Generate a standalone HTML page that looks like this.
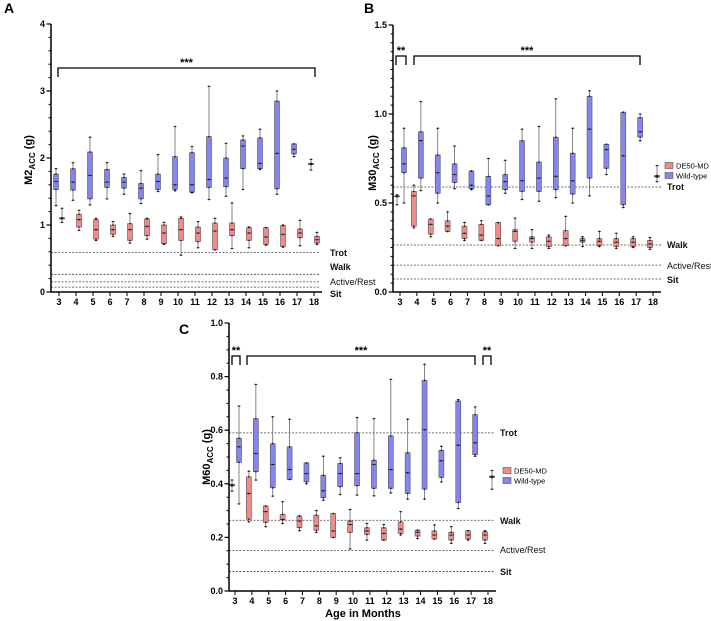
<!DOCTYPE html>
<html><head><meta charset="utf-8"><style>
body{margin:0;background:#fff}
svg{display:block;font-family:"Liberation Sans",Arial,sans-serif}
</style></head><body>
<svg id="chart" width="711" height="621" viewBox="0 0 711 621"></svg>
<script>
// values: [min, q1, median, q3, max] per month 3..18
const months = [3,4,5,6,7,8,9,10,11,12,13,14,15,16,17,18];
const aWT = [[1.29,1.53,1.65,1.76,1.84],[1.37,1.52,1.64,1.84,1.93],[1.30,1.39,1.74,2.09,2.31],[1.39,1.56,1.64,1.83,1.93],[1.46,1.55,1.64,1.71,1.76],[1.32,1.39,1.55,1.62,1.81],[1.50,1.53,1.65,1.76,2.05],[1.51,1.53,1.60,2.02,2.47],[1.48,1.49,1.60,2.08,2.17],[1.38,1.56,1.68,2.32,3.07],[1.43,1.57,1.70,2.00,2.22],[1.53,1.84,2.18,2.27,2.33],[1.83,1.84,1.92,2.30,2.43],[1.46,1.54,2.07,2.85,3.00],[2.02,2.06,2.13,2.21,2.21],[1.82,1.90,1.91,1.92,1.98]];
const aDE = [[1.04,1.09,1.10,1.11,1.25],[0.92,0.97,1.08,1.16,1.22],[0.77,0.79,0.93,1.08,1.10],[0.83,0.86,0.93,1.00,1.05],[0.73,0.77,0.93,1.02,1.17],[0.79,0.84,0.98,1.09,1.10],[0.71,0.72,0.88,1.00,1.04],[0.55,0.77,0.93,1.10,1.12],[0.66,0.75,0.88,0.97,1.05],[0.63,0.63,0.91,1.03,1.10],[0.65,0.84,0.93,1.03,1.33],[0.66,0.77,0.88,0.96,0.97],[0.70,0.71,0.82,0.96,0.96],[0.67,0.68,0.86,0.99,1.00],[0.69,0.81,0.88,0.94,1.07],[0.71,0.73,0.78,0.83,0.89]];
const bWT = [[0.50,0.67,0.72,0.81,0.92],[0.57,0.64,0.85,0.90,1.07],[0.50,0.555,0.67,0.77,0.92],[0.58,0.615,0.66,0.72,0.82],[0.575,0.58,0.60,0.68,0.68],[0.49,0.49,0.54,0.65,0.75],[0.555,0.575,0.62,0.66,0.74],[0.52,0.565,0.625,0.85,0.915],[0.51,0.565,0.64,0.73,0.93],[0.53,0.575,0.65,0.87,1.085],[0.50,0.55,0.625,0.78,0.92],[0.54,0.64,0.915,1.10,1.13],[0.66,0.695,0.80,0.83,0.83],[0.475,0.49,0.765,1.01,1.01],[0.85,0.87,0.90,0.98,1.00],[0.62,0.645,0.65,0.655,0.71]];
const bDE = [[0.49,0.535,0.537,0.54,0.546],[0.36,0.37,0.54,0.565,0.60],[0.31,0.325,0.38,0.41,0.41],[0.34,0.34,0.37,0.40,0.45],[0.29,0.30,0.33,0.37,0.39],[0.29,0.29,0.32,0.38,0.40],[0.26,0.26,0.30,0.39,0.39],[0.245,0.285,0.34,0.35,0.415],[0.245,0.28,0.30,0.31,0.35],[0.245,0.255,0.285,0.31,0.32],[0.26,0.26,0.30,0.345,0.425],[0.255,0.28,0.29,0.30,0.31],[0.255,0.26,0.285,0.30,0.34],[0.245,0.255,0.28,0.30,0.33],[0.25,0.255,0.28,0.30,0.31],[0.24,0.25,0.27,0.29,0.305]];
const cWT = [[0.325,0.48,0.538,0.57,0.69],[0.414,0.445,0.513,0.643,0.771],[0.354,0.385,0.472,0.55,0.65],[0.416,0.416,0.453,0.538,0.641],[0.40,0.407,0.438,0.478,0.478],[0.339,0.348,0.374,0.432,0.503],[0.36,0.389,0.438,0.476,0.497],[0.358,0.393,0.438,0.591,0.647],[0.355,0.383,0.472,0.488,0.643],[0.366,0.383,0.453,0.579,0.79],[0.343,0.364,0.441,0.516,0.641],[0.343,0.38,0.602,0.786,0.846],[0.407,0.424,0.486,0.525,0.54],[0.308,0.33,0.544,0.709,0.714],[0.503,0.509,0.553,0.658,0.687],[0.38,0.423,0.426,0.429,0.45]];
const cDE = [[0.373,0.392,0.395,0.398,0.414],[0.258,0.268,0.364,0.426,0.447],[0.24,0.256,0.296,0.317,0.317],[0.252,0.265,0.267,0.286,0.333],[0.225,0.236,0.261,0.28,0.28],[0.219,0.227,0.243,0.283,0.30],[0.20,0.20,0.224,0.289,0.289],[0.157,0.219,0.248,0.261,0.304],[0.19,0.211,0.224,0.236,0.252],[0.19,0.19,0.215,0.236,0.248],[0.209,0.215,0.231,0.258,0.296],[0.196,0.205,0.219,0.227,0.227],[0.194,0.194,0.209,0.224,0.246],[0.178,0.19,0.209,0.219,0.24],[0.19,0.194,0.209,0.225,0.225],[0.178,0.19,0.209,0.221,0.225]];
const refValues = [0.59, 0.264, 0.151, 0.073];
const refNames = ["Trot","Walk","Active/Rest","Sit"];
const aTicks = ["0","1","2","3","4"];
const bTicks = ["0.0","0.5","1.0","1.5"];
const cTicks = ["0.0","0.2","0.4","0.6","0.8","1.0"];

const NS="http://www.w3.org/2000/svg";
const svg=document.getElementById('chart');
function mk(tag,attrs,parent,text){const e=document.createElementNS(NS,tag);for(const k in attrs)e.setAttribute(k,attrs[k]);if(text!==undefined)e.textContent=text;(parent||svg).appendChild(e);return e;}
const BLUE="#8585f2",RED="#f28a8a";

function panel(P){
  const g=mk('g',{});
  
  
  const y=v=>P.y0-(v/P.ymax)*(P.y0-P.yTop);
  const step=(P.x18-P.x3)/15;
  const x=m=>P.x3+(m-3)*step;
  const L=mk('text',{x:P.lx,y:P.ly,'font-size':14,'font-weight':'bold'},g,P.letter);
  
  refValues.forEach((v,i)=>{
    const ln=mk('line',{x1:P.ax,x2:P.refEnd,y1:y(v),y2:y(v),stroke:'#444','stroke-width':0.8,'stroke-dasharray':'2,1.5'},g);
    
    
    const t=mk('text',{x:P.refLx,y:P.refLy[i],'font-size':9,'font-weight':i==2?'normal':'bold',fill:'#111'},g,refNames[i]);
    
  });
  function series(data,color,off,nm){
    data.forEach((d,i)=>{
      const cx=x(months[i])+off;
      const w=mk('line',{x1:cx,x2:cx,y1:y(d[0]),y2:y(d[4]),stroke:'#666','stroke-width':0.8},g);
      
      mk('line',{x1:cx-1.5,x2:cx+1.5,y1:y(d[0]),y2:y(d[0]),stroke:'#333','stroke-width':0.8},g);
      mk('line',{x1:cx-1.5,x2:cx+1.5,y1:y(d[4]),y2:y(d[4]),stroke:'#333','stroke-width':0.8},g);
      const r=mk('rect',{x:cx-2.5,y:y(d[3]),width:5,height:Math.max(0.5,y(d[1])-y(d[3])),fill:color,stroke:'#555','stroke-width':0.6},g);
      
      mk('line',{x1:cx-2.5,x2:cx+2.5,y1:y(d[2]),y2:y(d[2]),stroke:'#333','stroke-width':0.8},g);
      [d[0],d[1],d[2],d[3],d[4]].forEach(v=>{mk('circle',{cx:cx,cy:y(v),r:0.8,fill:'#111'},g);});
    });
  }
  series(P.wt,BLUE,P.wtOff,'wild-type');
  series(P.de,RED,P.deOff,'de50-md');
  const ya=mk('line',{x1:P.ax,x2:P.ax,y1:P.yTop,y2:P.y0,stroke:'#000','stroke-width':1.5},g);
  
  const nMinor=Math.round(P.ymax/P.minor);
  for(let k=0;k<=nMinor;k++){const v=k*P.minor;mk('line',{x1:P.ax-2.5,x2:P.ax,y1:y(v),y2:y(v),stroke:'#000','stroke-width':1},g);}
  P.ticks.forEach((t,i)=>{
    const v=i*P.major;
    mk('line',{x1:P.ax-4.5,x2:P.ax,y1:y(v),y2:y(v),stroke:'#000','stroke-width':1.2},g);
    const tl=mk('text',{x:P.ax-6,y:y(v)+3,'font-size':9,'font-weight':'bold','text-anchor':'end'},g,t);
    
  });
  const xa=mk('line',{x1:P.ax,x2:P.x18+8,y1:P.y0,y2:P.y0,stroke:'#000','stroke-width':1.5},g);
  
  months.forEach(m=>{
    mk('line',{x1:x(m),x2:x(m),y1:P.y0,y2:P.y0+4,stroke:'#000','stroke-width':1},g);
    const tl=mk('text',{x:x(m),y:P.y0+13,'font-size':9,'font-weight':'bold','text-anchor':'middle'},g,String(m));
    
  });
  const yt=mk('text',{transform:`translate(${P.ytx},${P.yty}) rotate(-90)`,'font-size':11,'font-weight':'bold','text-anchor':'middle'},g);
  
  mk('tspan',{},yt,P.ytitle);mk('tspan',{'font-size':8,dy:3},yt,'ACC');mk('tspan',{dy:-3},yt,' (g)');
  P.brackets.forEach(b=>{
    const by=P.brY;
    const p=mk('path',{d:`M${b[0]},${by+9} V${by} H${b[1]} V${by+9}`,fill:'none',stroke:'#000','stroke-width':1.3},g);
    
    const t=mk('text',{x:(b[0]+b[1])/2,y:by-2,'font-size':11,'font-weight':'bold','text-anchor':'middle'},g,b[2]);
    
  });
  if(P.legend){
    [[RED,'DE50-MD'],[BLUE,'Wild-type']].forEach((it,i)=>{
      const yy=P.legend[1]+i*10;
      const r=mk('rect',{x:P.legend[0],y:yy-3.5,width:8,height:6,fill:it[0],stroke:'#555','stroke-width':0.6},g);
      
      const t=mk('text',{x:P.legend[0]+11,y:yy+2.5,'font-size':7.5},g,it[1]);
      
    });
  }
}

panel({name:'panel-a',letter:'A',lx:4,ly:13,ax:51,y0:292,yTop:24,ymax:4,major:1,minor:0.2,ticks:aTicks,x3:59,x18:314,wt:aWT,de:aDE,wtOff:-3,deOff:3,
  refEnd:320,refLx:330,refLy:[256,270,285,297],ytitle:'M2',ytx:32,yty:160,brY:68,brackets:[[58,315,'***']],legend:null});
panel({name:'panel-b',letter:'B',lx:364,ly:13,ax:393,y0:292,yTop:25,ymax:1.5,major:0.5,minor:0.05,ticks:bTicks,x3:400,x18:653,wt:bWT,de:bDE,wtOff:4,deOff:-3,
  refEnd:662,refLx:667,refLy:[190,248,269,283],ytitle:'M30',ytx:376,yty:163,brY:56,brackets:[[396,406,'**'],[414,640,'***']],legend:[665,166]});
panel({name:'panel-c',letter:'C',lx:179,ly:334,ax:229,y0:591,yTop:323,ymax:1.0,major:0.2,minor:0.05,ticks:cTicks,x3:235,x18:488,wt:cWT,de:cDE,wtOff:4,deOff:-3,
  refEnd:495,refLx:500,refLy:[436,524,553,575],ytitle:'M60',ytx:210,yty:457,brY:356,brackets:[[232,240,'**'],[247,475,'***'],[483,491,'**']],legend:[503,471]});
const xt=mk('text',{x:363,y:617,'font-size':11,'font-weight':'bold','text-anchor':'middle'},svg,'Age in Months');


</script>
</body></html>
